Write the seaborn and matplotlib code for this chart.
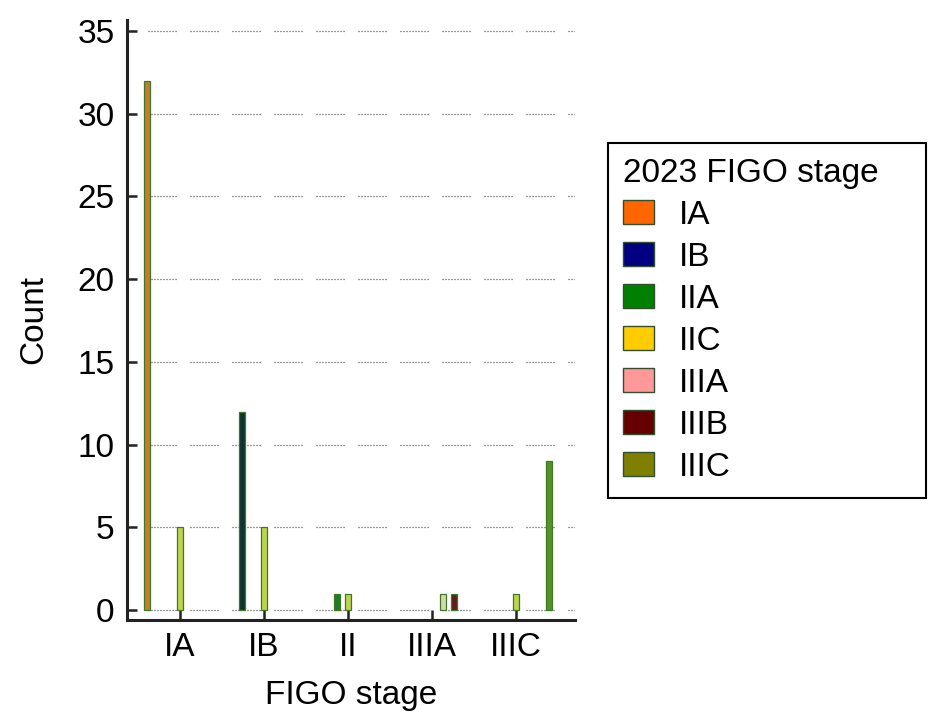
import matplotlib
matplotlib.use("Agg")
import matplotlib.pyplot as plt
import seaborn as sns
import pandas as pd
from matplotlib.patches import Patch

# counts per (FIGO stage, 2023 FIGO stage) pair
figo_stage = ["IA", "IA", "IB", "IB", "II", "II", "IIIA", "IIIA", "IIIC", "IIIC"]
stage_2023 = ["IA", "IIC", "IB", "IIC", "IIA", "IIC", "IIIA", "IIIB", "IIC", "IIIC"]
counts = [32, 5, 12, 5, 1, 1, 1, 1, 1, 9]

stage_order = ["IA", "IB", "II", "IIIA", "IIIC"]
hue_order = ["IA", "IB", "IIA", "IIC", "IIIA", "IIIB", "IIIC"]
# colours as the bars appear, and as the legend swatches appear
bar_colors = ["#dd7a1c", "#0b3a38", "#118a22", "#cdea3a", "#d9dcae", "#6b1212", "#55a11e"]
legend_colors = ["#ff6600", "#000080", "#008000", "#ffcc00", "#ff9999", "#660000", "#808000"]

df = pd.DataFrame({"figo": figo_stage, "stage2023": stage_2023, "count": counts})

plt.rcParams["font.family"] = ["Liberation Sans", "DejaVu Sans"]
plt.rcParams["lines.scale_dashes"] = False

fig = plt.figure(figsize=(9.29, 7.17), dpi=100)
ax = fig.add_axes([127 / 929, 97 / 717, 448 / 929, 600 / 717])

sns.barplot(data=df, x="figo", y="count", hue="stage2023",
            order=stage_order, hue_order=hue_order,
            palette=dict(zip(hue_order, bar_colors)),
            width=0.917, gap=0.45, edgecolor="#3d7a1f", linewidth=0.9,
            errorbar=None, legend=False, ax=ax)

ax.set_ylim(-0.6, 35.66)
ax.set_xlim(-0.631, 4.702)
ax.set_yticks(range(0, 36, 5))

# broken dotted grid
dots = [0.72, 1.44] * 9 + [0.72, 10.08]
ax.set_axisbelow(True)
ax.yaxis.grid(True, color="#333333", linewidth=0.9, linestyle=(15.1, dots))
ax.xaxis.grid(False)

for s in ["top", "right"]:
    ax.spines[s].set_visible(False)
for s in ["left", "bottom"]:
    ax.spines[s].set_linewidth(2.2)
    ax.spines[s].set_color("#222222")

ax.tick_params(direction="in", length=7, width=1.8, color="#222222",
               labelsize=24, pad=9, labelcolor="black")
ax.set_xlabel("FIGO stage", fontsize=24, labelpad=12)
ax.set_ylabel("Count", fontsize=24, labelpad=20)

handles = [Patch(facecolor=c, edgecolor="#2f4f2f", linewidth=1) for c in legend_colors]
top = 1 - 143 / 717
leg = fig.legend(handles, hue_order, title="2023 FIGO stage",
                 loc="upper left", bbox_to_anchor=(608 / 929, 0.30, 318 / 929, top - 0.30),
                 mode="expand", borderaxespad=0, fontsize=24, title_fontsize=24,
                 alignment="left", handlelength=0.92, handleheight=0.72,
                 handletextpad=0.75, labelspacing=0.33, borderpad=0.45,
                 fancybox=False, edgecolor="black", framealpha=1)
leg.get_frame().set_linewidth(1.5)

fig.savefig("out.png", dpi=100)
